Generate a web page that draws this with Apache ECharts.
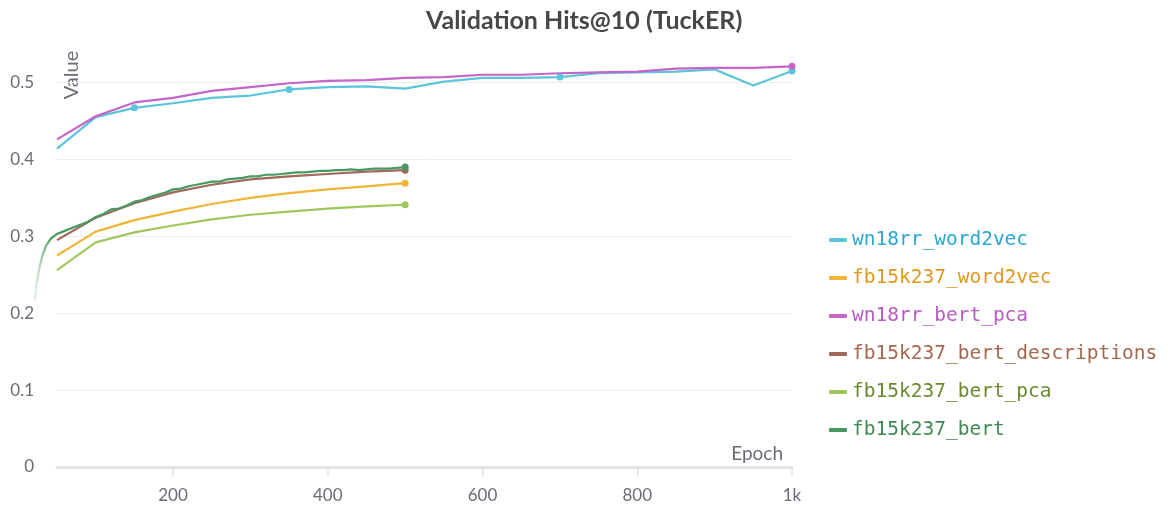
<!DOCTYPE html>
<html>
<head>
<meta charset="utf-8">
<title>Validation Hits@10 (TuckER)</title>
<script src="https://cdn.jsdelivr.net/npm/echarts@6.0.0/dist/echarts.min.js"></script>
<style>
  html, body { margin: 0; padding: 0; background: #fff; }
  #chart { width: 1168px; height: 508px; }
</style>
</head>
<body>
<div id="chart"></div>
<script>
// epochs logged for the wn18rr runs (every 50)
const wnEpochs = [50, 100, 150, 200, 250, 300, 350, 400, 450, 500, 550, 600, 650, 700, 750, 800, 850, 900, 950, 1000];
// epochs logged for the fb15k237 runs (every 50, up to 500)
const fbEpochs = [50, 100, 150, 200, 250, 300, 350, 400, 450, 500];
// fb15k237_bert was logged more often (and starts before the visible x range)
const bertEpochs = [21, 23, 27, 31, 36, 42, 50, 60, 70, 80, 90, 100, 110, 120, 130, 140, 150, 160, 170, 180, 190, 200,
  210, 220, 230, 240, 250, 260, 270, 280, 290, 300, 310, 320, 330, 340, 350, 360, 370, 380, 390, 400,
  410, 420, 430, 440, 450, 460, 470, 480, 490, 500];

const wn18rrWord2vec = [0.414, 0.455, 0.467, 0.473, 0.480, 0.483, 0.491, 0.494, 0.495, 0.492,
  0.501, 0.506, 0.506, 0.507, 0.512, 0.513, 0.514, 0.517, 0.496, 0.515];
const wn18rrBertPca = [0.426, 0.456, 0.474, 0.480, 0.489, 0.494, 0.499, 0.502, 0.503, 0.506,
  0.507, 0.510, 0.510, 0.512, 0.513, 0.514, 0.518, 0.519, 0.519, 0.521];
const fbWord2vec = [0.275, 0.306, 0.321, 0.332, 0.342, 0.350, 0.356, 0.361, 0.365, 0.369];
const fbBertDesc = [0.295, 0.324, 0.343, 0.357, 0.367, 0.374, 0.378, 0.381, 0.384, 0.386];
const fbBertPca = [0.256, 0.292, 0.305, 0.314, 0.322, 0.328, 0.332, 0.336, 0.339, 0.341];
const fbBert = [0.217, 0.236, 0.258, 0.275, 0.288, 0.297, 0.303, 0.307, 0.311, 0.315, 0.319, 0.325, 0.329, 0.335, 0.336, 0.340,
  0.345, 0.347, 0.351, 0.354, 0.357, 0.361, 0.362, 0.365, 0.367, 0.369, 0.371, 0.371, 0.374, 0.375, 0.376, 0.378,
  0.378, 0.380, 0.380, 0.381, 0.382, 0.383, 0.383, 0.384, 0.385, 0.385, 0.386, 0.386, 0.387, 0.386, 0.387, 0.388,
  0.388, 0.388, 0.389, 0.390];

// points that carry a dot
const wnWord2vecDots = [150, 350, 700, 1000];

const xTicks = [200, 400, 600, 800, 1000];
const yTicks = [0, 0.1, 0.2, 0.3, 0.4, 0.5];

const names = ['wn18rr_word2vec', 'fb15k237_word2vec', 'wn18rr_bert_pca',
  'fb15k237_bert_descriptions', 'fb15k237_bert_pca', 'fb15k237_bert'];
const lineColors = ['#5bc5db', '#f0b535', '#c565c9', '#a0685a', '#a0c75c', '#479a5f'];
const textColors = ['#2aa8d4', '#e2981c', '#b95bc4', '#a5684f', '#6b8a2e', '#3f8a52'];

// 主坐标区
const X_MIN = 50, X_MAX = 1000, PLOT_LEFT = 57, PLOT_RIGHT = 376
// 同比例的隐藏坐标区，左边延伸到第一条记录
const X_MIN_EXT = 20
const PLOT_LEFT_EXT = PLOT_LEFT - (X_MIN - X_MIN_EXT) * (1168 - PLOT_RIGHT - PLOT_LEFT) / (X_MAX - X_MIN)

function points(xs, ys, dots) {
  //只在需要的位置显示圆点
  return xs.map((x, i) => {
    const show = dots.indexOf(x) >= 0 || i === xs.length - 1
    return { value: [x, ys[i]], symbol: show ? 'circle' : 'none' }
  })
}

function makeSeries(idx, xs, ys, dots, extra) {
  return Object.assign({
    name: names[idx],
    type: 'line',
    data: points(xs, ys, dots),
    showSymbol: true,
    showAllSymbol: true,
    symbolSize: 7,
    lineStyle: { width: 2.2, color: lineColors[idx] },
    itemStyle: { color: lineColors[idx] },
    emphasis: { disabled: true }
  }, extra || {})
}

const chart = echarts.init(document.getElementById('chart'))

const labelStyle = { fontFamily: 'Lato', fontSize: 17, color: '#6b6b76' }

const option = {
  animation: false,
  title: {
    text: 'Validation Hits@10 (TuckER)',
    left: 421,
    top: 3,
    textStyle: { fontFamily: 'Lato', fontSize: 25, fontWeight: 'bold', color: '#474747' }
  },
  legend: {
    orient: 'vertical',
    left: 824,
    top: 225,
    icon: 'roundRect',
    itemWidth: 18,
    itemHeight: 4,
    itemGap: 18,
    textStyle: { fontFamily: 'DejaVu Sans Mono', fontSize: 19.5 },
    data: names.map((n, i) => ({
      name: n,
      itemStyle: { color: lineColors[i] },
      textStyle: { color: textColors[i] }
    }))
  },
  grid: [
    { left: PLOT_LEFT, right: PLOT_RIGHT, top: 44, bottom: 41 },
    { left: PLOT_LEFT_EXT, right: PLOT_RIGHT, top: 44, bottom: 41 }
  ],
  xAxis: [{
    type: 'value',
    gridIndex: 0,
    min: X_MIN,
    max: X_MAX,
    name: 'Epoch',
    nameLocation: 'end',
    nameGap: -9,
    nameTextStyle: {
      fontFamily: 'Lato', fontSize: 19, color: '#6b6b76',
      align: 'right', verticalAlign: 'bottom', padding: [0, 0, 4, 0]
    },
    axisLine: { lineStyle: { color: '#e4e4e6', width: 3 } },
    axisTick: { show: true, length: 10, customValues: xTicks, lineStyle: { color: '#e4e4e6', width: 1.5 } },
    axisLabel: Object.assign({
      customValues: xTicks,
      margin: 20,
      formatter: v => (v >= 1000 ? v / 1000 + 'k' : String(v))
    }, labelStyle),
    splitLine: { show: false }
  }, {
    type: 'value',
    gridIndex: 1,
    min: X_MIN_EXT,
    max: X_MAX,
    show: false
  }],
  yAxis: [{
    type: 'value',
    gridIndex: 0,
    min: 0,
    max: 0.55,
    axisLine: { show: false },
    axisTick: { show: false, customValues: yTicks },
    axisLabel: Object.assign({
      customValues: yTicks,
      margin: 23,
      formatter: v => String(v)
    }, labelStyle),
    splitLine: { show: true, lineStyle: { color: '#ececee', width: 1 } }
  }, {
    type: 'value',
    gridIndex: 1,
    min: 0,
    max: 0.55,
    show: false
  }],
  graphic: [{
    type: 'text',
    x: 72,
    y: 75,
    rotation: Math.PI / 2,
    style: {
      text: 'Value', fontFamily: 'Lato', fontSize: 20, fill: '#6b6b76',
      align: 'center', verticalAlign: 'middle'
    }
  }],
  series: [
    makeSeries(0, wnEpochs, wn18rrWord2vec, wnWord2vecDots),
    makeSeries(1, fbEpochs, fbWord2vec, []),
    makeSeries(2, wnEpochs, wn18rrBertPca, []),
    makeSeries(3, fbEpochs, fbBertDesc, []),
    makeSeries(4, fbEpochs, fbBertPca, []),
    makeSeries(5, bertEpochs, fbBert, [], {
      xAxisIndex: 1,
      yAxisIndex: 1,
      lineStyle: {
        width: 2.2,
        //左侧渐隐
        color: new echarts.graphic.LinearGradient(0, 0, 1, 0, [
          { offset: 0, color: 'rgba(71,154,95,0.05)' },
          { offset: 0.015, color: 'rgba(71,154,95,0.3)' },
          { offset: 0.035, color: 'rgba(71,154,95,0.7)' },
          { offset: 0.05, color: '#479a5f' },
          { offset: 1, color: '#479a5f' }
        ])
      }
    })
  ]
}

chart.setOption(option)
</script>
</body>
</html>
